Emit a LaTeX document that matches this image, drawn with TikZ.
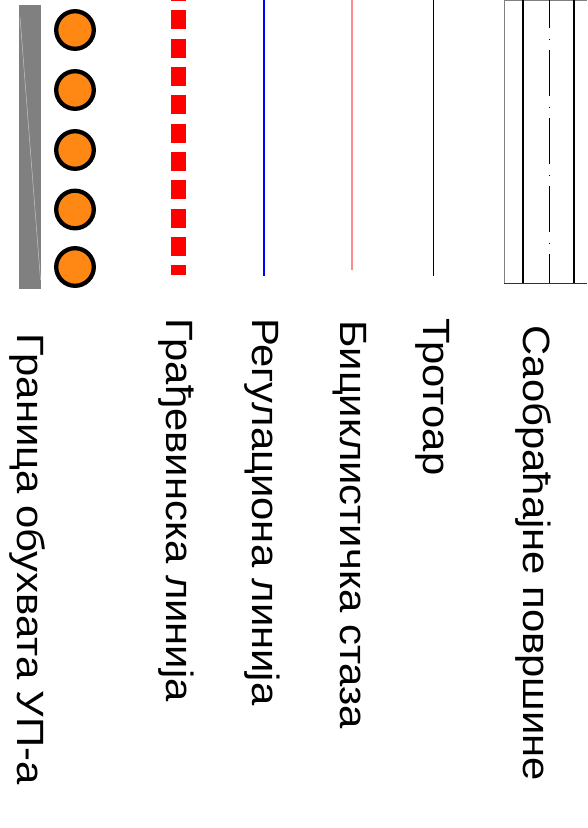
\documentclass[tikz,border=0pt]{standalone}
\usepackage{fontspec}
\setmainfont{Liberation Sans}
\definecolor{treeorange}{RGB}{255,135,20}
\definecolor{bikepink}{RGB}{255,140,140}

\begin{document}
\begin{tikzpicture}[x=1pt,y=-1pt,
    legend/.style={anchor=base west,rotate=-90,xscale=1.10,inner sep=0pt,font=\fontsize{38}{44}\selectfont},
    tree/.style={circle,draw,line width=4.3pt,fill=treeorange,minimum size=37.6pt,inner sep=0pt}]
    \useasboundingbox (0,0) rectangle (587,828);

    % granica obuhvata
    \fill[gray] (19,5) rectangle (41,289);
    \draw[gray!45,line width=0.5pt] (20,17) -- (40.5,280);
    \foreach \y [count=\i] in {30,90,150,209.5,267}
        \node[tree] (T\i) at (75,\y) {};

    % linije
    \draw[red,line width=15pt,dash pattern=on 19pt off 9.33pt,dash phase=18pt] (178.5,0) -- (178.5,275);
    \draw[blue,line width=2pt] (264.3,0) -- (264.3,276);
    \draw[bikepink,line width=1.5pt] (352,0) -- (352,270);
    \draw[black,line width=1.5pt] (433.7,0) -- (433.7,275.7);

    % saobracajne povrsine
    \draw[gray,line width=1pt] (504.3,0.5) -- (587,0.5);
    \draw[gray,line width=1pt] (504.3,0) -- (504.3,283.7);
    \draw[black,line width=2pt] (523.3,0) -- (523.3,283.7);
    \draw[black,line width=0.8pt,dash pattern=on 46pt off 10.3pt on 1pt off 10.7pt,dash phase=17.7pt] (549.3,0) -- (549.3,283.7);
    \draw[black,line width=2pt] (574.3,0) -- (574.3,283.7);
    \draw[black!80,line width=1.2pt] (504.3,283.7) -- (587,283.7);

    % tekst
    \node[legend] (L1) at (17,333) {Граница обухвата УП-а};
    \node[legend] (L2) at (166,318) {Грађевинска линија};
    \node[legend] (L3) at (252,318) {Регулациона линија};
    \node[legend] (L4) at (340,320) {Бициклистичка стаза};
    \node[legend] (L5) at (423,318) {Тротоар};
    \node[legend] (L6) at (523,325) {Саобраћајне површине};
\end{tikzpicture}
\end{document}
